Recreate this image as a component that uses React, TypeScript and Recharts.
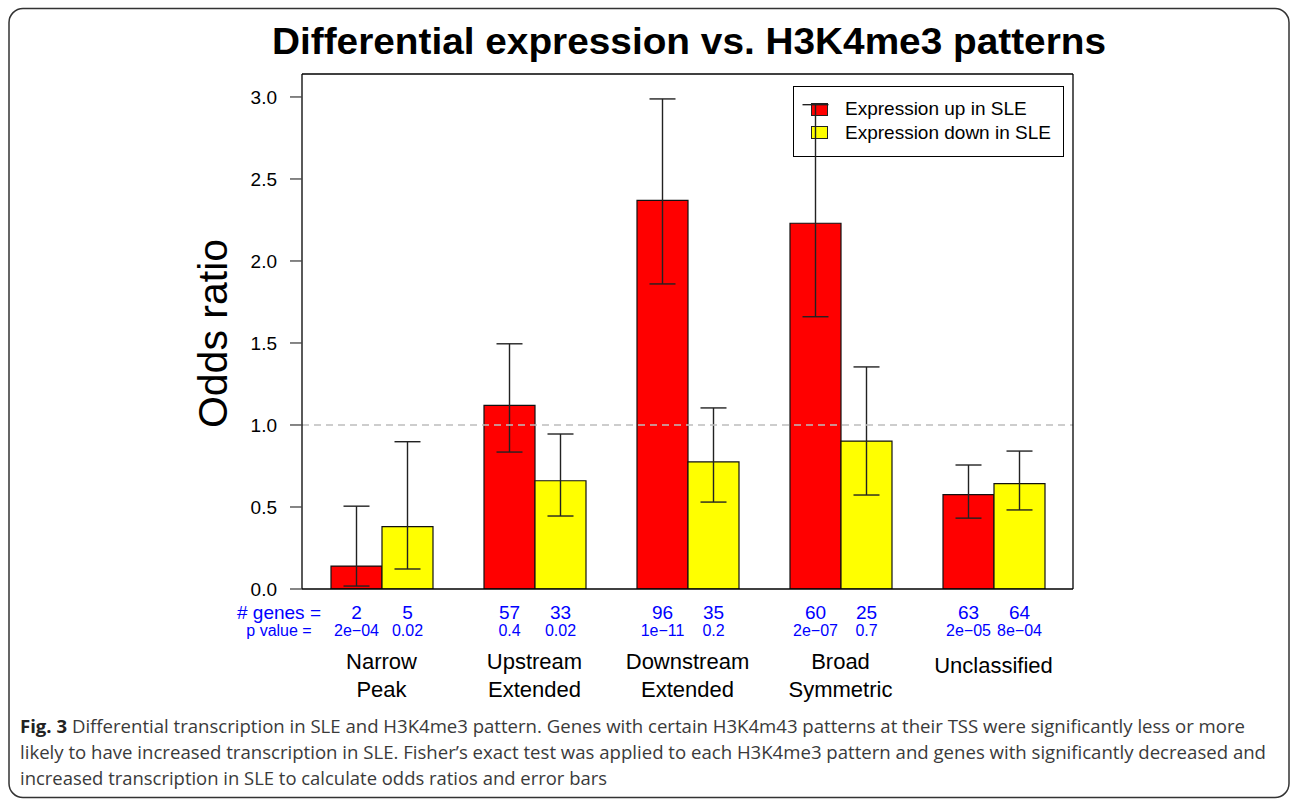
import React from "react";
import {
  BarChart,
  Bar,
  XAxis,
  YAxis,
  ErrorBar,
  LabelList,
  ReferenceLine,
} from "recharts";

// H3K4me3 pattern groups (line breaks are drawn as separate lines)
const patterns = [
  "Narrow\nPeak",
  "Upstream\nExtended",
  "Downstream\nExtended",
  "Broad\nSymmetric",
  "Unclassified",
];

// odds ratios with confidence limits, genes with expression up in SLE
const upOdds = [0.14, 1.12, 2.37, 2.23, 0.575];
const upLow = [0.018, 0.835, 1.86, 1.66, 0.432];
const upHigh = [0.505, 1.495, 2.988, 2.953, 0.756];
const upGenes = [2, 57, 96, 60, 63];
const upP = ["2e\u221204", "0.4", "1e\u221211", "2e\u221207", "2e\u221205"];

// same for genes with expression down in SLE
const downOdds = [0.38, 0.66, 0.775, 0.902, 0.642];
const downLow = [0.122, 0.445, 0.53, 0.573, 0.482];
const downHigh = [0.898, 0.945, 1.104, 1.354, 0.841];
const downGenes = [5, 33, 35, 25, 64];
const downP = ["0.02", "0.02", "0.2", "0.7", "8e\u221204"];

const yTicks = [0, 0.5, 1, 1.5, 2, 2.5, 3];
const Y_MAX = 3.14;

const data = patterns.map((pattern, i) => ({
  pattern,
  up: upOdds[i],
  upErr: [upOdds[i] - upLow[i], upHigh[i] - upOdds[i]],
  upGenes: upGenes[i],
  upP: upP[i],
  down: downOdds[i],
  downErr: [downOdds[i] - downLow[i], downHigh[i] - downOdds[i]],
  downGenes: downGenes[i],
  downP: downP[i],
}));

const FONT = '"Liberation Sans", Arial, Helvetica, sans-serif';
const BLUE = "#0000ff";

// gene count / p value written under each bar, below the axis
function makeBelowLabel(offset: number, size: number) {
  return function BelowLabel(props: any) {
    const vb = props.viewBox ?? props;
    const x = Number(props.x ?? vb.x);
    const y = Number(props.y ?? vb.y);
    const w = Number(props.width ?? vb.width);
    const h = Number(props.height ?? vb.height);
    return (
      <text
        x={x + w / 2}
        y={y + h + offset}
        textAnchor="middle"
        fontSize={size}
        fontFamily={FONT}
        fill={BLUE}
      >
        {props.value}
      </text>
    );
  };
}

const CountLabel = makeBelowLabel(29.5, 19);
const PLabel = makeBelowLabel(46.5, 16);

function PatternTick(props: any) {
  const { x, y, payload } = props;
  const lines = String(payload.value).split("\n");
  const first = lines.length > 1 ? 80 : 84;
  return (
    <g>
      {lines.map((line, i) => (
        <text
          key={i}
          x={x}
          y={y + first + i * 28}
          textAnchor="middle"
          fontSize={22}
          fontFamily={FONT}
          fill="#000"
        >
          {line}
        </text>
      ))}
    </g>
  );
}

function LegendBox() {
  const rows = [
    { color: "#ff0000", label: "Expression up in SLE" },
    { color: "#ffff00", label: "Expression down in SLE" },
  ];
  return (
    <div
      style={{
        position: "absolute",
        left: 793,
        top: 86,
        width: 269,
        height: 69,
        border: "1.3px solid #000",
        fontFamily: FONT,
        fontSize: 19,
        color: "#000",
      }}
    >
      {rows.map((r, i) => (
        <div
          key={r.label}
          style={{
            position: "absolute",
            left: 17,
            top: 11 + i * 23.5,
            display: "flex",
            alignItems: "center",
            height: 22,
            whiteSpace: "nowrap",
          }}
        >
          <div
            style={{
              width: 15,
              height: 11,
              background: r.color,
              border: "1px solid #222",
              marginRight: 17,
            }}
          />
          {r.label}
        </div>
      ))}
    </div>
  );
}

export default function App() {
  return (
    <div
      style={{
        position: "absolute",
        left: 0,
        top: 0,
        width: 1292,
        height: 799,
        background: "#fff",
        overflow: "hidden",
      }}
    >
      <svg
        width={1292}
        height={799}
        style={{ position: "absolute", left: 0, top: 0 }}
      >
        <rect
          x={9}
          y={8.5}
          width={1280}
          height={789}
          rx={14}
          fill="none"
          stroke="#333"
          strokeWidth={1.5}
        />
        <text
          x={689}
          y={53.5}
          textAnchor="middle"
          fontFamily={FONT}
          fontWeight="bold"
          fontSize={37}
          textLength={834}
          lengthAdjust="spacingAndGlyphs"
          fill="#000"
        >
          Differential expression vs. H3K4me3 patterns
        </text>
        <text
          transform="translate(227, 333.5) rotate(-90)"
          textAnchor="middle"
          fontFamily={FONT}
          fontSize={41}
          fill="#000"
        >
          Odds ratio
        </text>
        <text x={279} y={618.5} textAnchor="middle" fontFamily={FONT} fontSize={19} fill={BLUE}>
          # genes =
        </text>
        <text x={279} y={635.5} textAnchor="middle" fontFamily={FONT} fontSize={16} fill={BLUE}>
          p value =
        </text>
        <g fontFamily='"Open Sans", sans-serif' fontSize={17.5} fill="#3a3a3a">
          <text x={20} y={733} textLength={1225} lengthAdjust="spacingAndGlyphs">
            <tspan fontWeight="bold" fill="#222">Fig. 3</tspan> Differential transcription in SLE and
            H3K4me3 pattern. Genes with certain H3K4m43 patterns at their TSS were significantly less or more
          </text>
          <text x={20} y={759} textLength={1246} lengthAdjust="spacingAndGlyphs">
            likely to have increased transcription in SLE. Fisher’s exact test was applied to each H3K4me3
            pattern and genes with significantly decreased and
          </text>
          <text x={20} y={785} textLength={587} lengthAdjust="spacingAndGlyphs">
            increased transcription in SLE to calculate odds ratios and error bars
          </text>
        </g>
      </svg>

      <LegendBox />

      <div style={{ position: "absolute", left: 0, top: 0 }}>
        <BarChart
          width={1292}
          height={799}
          data={data}
          margin={{ top: 73, right: 218, bottom: 100, left: 242 }}
          barSize={51}
          barGap={0}
        >
          <XAxis
            dataKey="pattern"
            interval={0}
            padding={{ left: 3, right: 3 }}
            axisLine={{ stroke: "#000", strokeWidth: 1.3 }}
            tickLine={false}
            tickSize={0}
            tickMargin={0}
            height={110}
            tick={<PatternTick />}
          />
          <XAxis
            xAxisId="top"
            orientation="top"
            dataKey="pattern"
            height={1}
            tick={false}
            tickLine={false}
            axisLine={{ stroke: "#000", strokeWidth: 1.3 }}
          />
          <YAxis
            domain={[0, Y_MAX]}
            ticks={yTicks}
            allowDataOverflow
            width={60}
            tickFormatter={(v: number) => v.toFixed(1)}
            tick={{ fontSize: 19, fill: "#000", fontFamily: FONT }}
            tickSize={12}
            tickMargin={13}
            tickLine={{ stroke: "#444", strokeWidth: 1.3 }}
            axisLine={{ stroke: "#000", strokeWidth: 1.3 }}
          />
          <YAxis
            yAxisId="right"
            orientation="right"
            domain={[0, Y_MAX]}
            width={1}
            tick={false}
            tickLine={false}
            axisLine={{ stroke: "#000", strokeWidth: 1.3 }}
          />
          <Bar
            dataKey="up"
            fill="#ff0000"
            stroke="#111"
            strokeWidth={1.2}
            isAnimationActive={false}
          >
            <ErrorBar dataKey="upErr" width={13} stroke="#222" strokeWidth={1.4} />
            <LabelList dataKey="upGenes" content={CountLabel} />
            <LabelList dataKey="upP" content={PLabel} />
          </Bar>
          <Bar
            dataKey="down"
            fill="#ffff00"
            stroke="#111"
            strokeWidth={1.2}
            isAnimationActive={false}
          >
            <ErrorBar dataKey="downErr" width={13} stroke="#222" strokeWidth={1.4} />
            <LabelList dataKey="downGenes" content={CountLabel} />
            <LabelList dataKey="downP" content={PLabel} />
          </Bar>
          <ReferenceLine
            y={1}
            stroke="#bdbdbd"
            strokeWidth={1.3}
            strokeDasharray="7 5"
          />
        </BarChart>
      </div>
    </div>
  );
}
